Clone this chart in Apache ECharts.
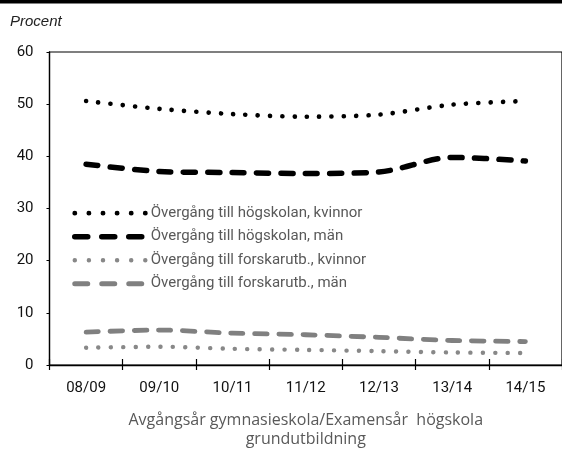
<!DOCTYPE html>
<html><head><meta charset="utf-8">
<script src="https://cdn.jsdelivr.net/npm/echarts@6/dist/echarts.min.js"></script>
<style>html,body{margin:0;padding:0;background:#fff;overflow:hidden}#c{width:562px;height:454px}</style>
</head><body><div id="c"></div>
<script>
const categories = ['08/09','09/10','10/11','11/12','12/13','13/14','14/15'];
const hogskolanKvinnor = [50.6, 49.1, 48.1, 47.6, 48.0, 49.9, 50.6];
const hogskolanMan = [38.5, 37.1, 36.9, 36.7, 37.0, 39.8, 39.1];
const forskarKvinnor = [3.3, 3.5, 3.1, 2.9, 2.65, 2.4, 2.3];
const forskarMan = [6.3, 6.7, 6.1, 5.8, 5.3, 4.7, 4.5];
const yTicks = [0, 10, 20, 30, 40, 50, 60];
const names = ['Övergång till högskolan, kvinnor','Övergång till högskolan, män','Övergång till forskarutb., kvinnor','Övergång till forskarutb., män'];

const chart = echarts.init(document.getElementById('c'), null, {renderer:'canvas'});
const narrow = 'Roboto, "Liberation Sans", sans-serif';
function ser(name, data, color, width, dash, smooth){
  return {name, type:'line', data, symbol:'none', smooth,
    lineStyle:{color, width, type:dash, cap:'round', join:'round'},
    itemStyle:{color}};
}
const legendStyles = [
  {color:'#000', width:4.8, type:[0.1, 14]},
  {color:'#000', width:5.5, type:[13, 14]},
  {color:'#888', width:4.4, type:[0.1, 14]},
  {color:'#808080', width:5, type:[13, 14]}
];
chart.setOption({
  animation:false,
  grid:{left:49.5, top:52, right:-8.5, bottom:84, show:true, borderColor:'#000', borderWidth:1.2, backgroundColor:'transparent'},
  graphic:[
    {type:'rect', shape:{x:0,y:0,width:562,height:3.5}, style:{fill:'#000'}},
    {type:'text', left:10, top:14, style:{text:'Procent', font:'italic 15px "Liberation Sans", Arial, sans-serif', fill:'#222'}}
  ],
  legend:{orient:'vertical', left:67, top:200.7, itemWidth:71, itemHeight:14, itemGap:8.5,
    itemStyle:{opacity:0},
    textStyle:{fontFamily:narrow, fontSize:15, color:'#595959', lineHeight:14},
    data:names.map((n,i)=>({name:n, lineStyle:Object.assign({cap:'round'}, legendStyles[i]), itemStyle:{opacity:0}}))},
  xAxis:[
    {type:'category', data:categories, boundaryGap:true,
     axisLine:{lineStyle:{color:'#000', width:1.3}},
     axisTick:{show:true, length:5, lineStyle:{color:'#000', width:1.2}},
     axisLabel:{fontFamily:narrow, fontSize:15, color:'#111', margin:16},
     name:'Avgångsår gymnasieskola/Examensår  högskola\ngrundutbildning',
     nameLocation:'middle', nameGap:46,
     nameTextStyle:{fontFamily:'"Open Sans", sans-serif', fontSize:16, color:'#595959', lineHeight:19}},
    {type:'category', data:categories, boundaryGap:true, position:'bottom',
     axisLine:{show:false}, axisLabel:{show:false},
     axisTick:{show:true, inside:true, length:6, lineStyle:{color:'#000', width:1.2}}}
  ],
  yAxis:{type:'value', min:yTicks[0], max:yTicks[yTicks.length-1], interval:10,
    axisLine:{show:true, lineStyle:{color:'#000', width:1.3}},
    axisTick:{show:true, length:3, lineStyle:{color:'#000'}},
    splitLine:{show:false},
    axisLabel:{fontFamily:narrow, fontSize:15, color:'#111', margin:16}},
  series:[
    ser(names[0], hogskolanKvinnor, '#000', 4.6, [0.1, 12.2], 0.3),
    ser(names[1], hogskolanMan, '#000', 5.5, [12, 12.4], 0.3),
    ser(names[2], forskarKvinnor, '#888', 4.4, [0.1, 12.3], 0.3),
    ser(names[3], forskarMan, '#808080', 4.8, [12.5, 11.6], 0.3)
  ]
});
</script></body></html>
